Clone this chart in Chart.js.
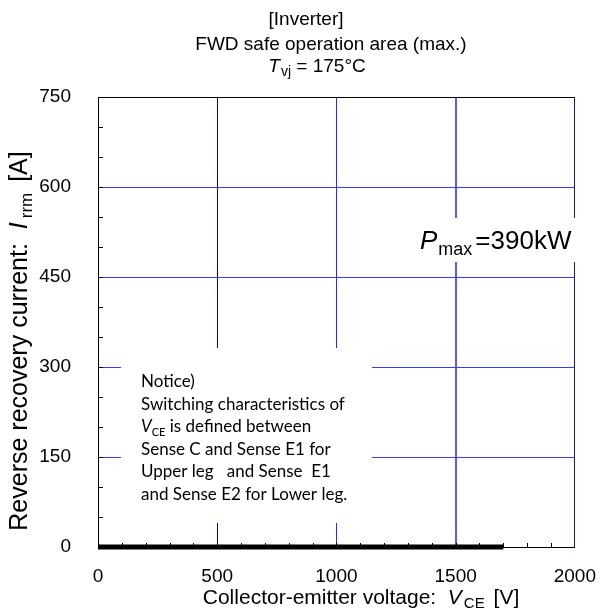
<!DOCTYPE html>
<html lang="en">
<head>
<meta charset="UTF-8" />
<title>FWD safe operation area</title>
<script src="https://cdn.jsdelivr.net/npm/chart.js@4.4.0/dist/chart.umd.min.js"></script>
<style>
  body { margin: 0; background: #fff; }
  #wrap { width: 614px; height: 612px; position: relative; }
</style>
</head>
<body>
<div id="wrap"><canvas id="chart"></canvas></div>
<script>
// RBSOA limit line (V, A)
const vceValues = [0, 1700];
const irrmValues = [0, 0];

// axis ticks
const xTickLabels = [0, 500, 1000, 1500, 2000];
const yTickLabels = [0, 150, 300, 450, 600, 750];
const xMinorStep = 100;
const yMinorStep = 50;

const noticeLines = [
  'Notice)',
  'Switching characteristics of',
  '@VCE is defined between',
  'Sense C and Sense E1 for',
  'Upper leg   and Sense  E1',
  'and Sense E2 for Lower leg.'
];

const SANS = '"Liberation Sans", Arial, sans-serif';

// draws text pieces left to right (for subscripts), returns end x
function subText(ctx, x, y, parts) {
  parts.forEach(p => {
    ctx.font = p.font;
    ctx.fillText(p.t, x, y + (p.dy || 0));
    x += ctx.measureText(p.t).width + (p.gap || 0);
  });
  return x;
}
function partsWidth(ctx, parts) {
  let w = 0;
  parts.forEach(p => { ctx.font = p.font; w += ctx.measureText(p.t).width + (p.gap || 0); });
  return w;
}

const decorPlugin = {
  id: 'decor',
  beforeDatasetsDraw(chart) {
    const ctx = chart.ctx;
    ctx.save();
    ctx.fillStyle = '#fff';
    ctx.fillRect(121, 348, 251, 175);   // notice box
    ctx.fillRect(455, 218, 125, 44);    // Pmax label backing
    ctx.restore();
  },
  afterDraw(chart) {
    const ctx = chart.ctx;
    const xs = chart.scales.x, ys = chart.scales.y;
    const area = chart.chartArea;
    ctx.save();

    // minor ticks, pointing inward
    ctx.strokeStyle = '#000';
    ctx.lineWidth = 1;
    ctx.beginPath();
    for (let v = yMinorStep; v < 750; v += yMinorStep) {
      const py = Math.round(ys.getPixelForValue(v)) + 0.5;
      ctx.moveTo(area.left, py); ctx.lineTo(area.left + 5, py);
    }
    for (let v = xMinorStep; v < 2000; v += xMinorStep) {
      const px = Math.round(xs.getPixelForValue(v)) + 0.5;
      ctx.moveTo(px, area.bottom); ctx.lineTo(px, area.bottom - 4);
    }
    ctx.stroke();

    ctx.fillStyle = '#000';
    ctx.textBaseline = 'alphabetic';

    // titles
    ctx.font = '19px ' + SANS;
    ctx.textAlign = 'center';
    ctx.fillText('[Inverter]', 306, 25);
    ctx.fillText('FWD safe operation area (max.)', 331, 50);
    ctx.textAlign = 'left';
    const tParts = [
      { t: 'T', font: 'italic 19px ' + SANS, gap: 1 },
      { t: 'vj', font: '14px ' + SANS, dy: 4 },
      { t: ' = 175°C', font: '19px ' + SANS }
    ];
    subText(ctx, 317 - partsWidth(ctx, tParts) / 2, 72, tParts);

    // x axis title
    const xParts = [
      { t: 'Collector-emitter voltage:  ', font: '21px ' + SANS },
      { t: 'V', font: 'italic 21px ' + SANS, gap: 2 },
      { t: 'CE', font: '15px ' + SANS, dy: 4, gap: 3 },
      { t: ' [V]', font: '21px ' + SANS }
    ];
    subText(ctx, 361 - partsWidth(ctx, xParts) / 2, 604, xParts);

    // y axis title (rotated)
    const yParts = [
      { t: 'Reverse recovery current:  ', font: '25px ' + SANS },
      { t: 'I', font: 'italic 25px ' + SANS, gap: 4 },
      { t: 'rrm', font: '17px ' + SANS, dy: 5, gap: 4 },
      { t: ' [A]', font: '25px ' + SANS }
    ];
    ctx.save();
    ctx.translate(27, 341);
    ctx.rotate(-Math.PI / 2);
    subText(ctx, -partsWidth(ctx, yParts) / 2, 0, yParts);
    ctx.restore();

    // Pmax label
    subText(ctx, 420, 249, [
      { t: 'P', font: 'italic 26px ' + SANS, gap: 1 },
      { t: 'max', font: '18px ' + SANS, dy: 6, gap: 3 },
      { t: '=390kW', font: '26px ' + SANS }
    ]);

    // notice text
    const nf = '17px Lato, "Open Sans", sans-serif';
    noticeLines.forEach((line, i) => {
      const y = 387 + i * 22.6;
      if (line.startsWith('@')) {
        subText(ctx, 141, y, [
          { t: 'V', font: 'italic ' + nf },
          { t: 'CE', font: '11px Lato, sans-serif', dy: 4 },
          { t: line.slice(4), font: nf }
        ]);
      } else {
        ctx.font = nf;
        ctx.fillText(line, 141, y);
      }
    });
    ctx.restore();
  }
};

new Chart(document.getElementById('chart'), {
  type: 'line',
  data: {
    datasets: [{
      data: vceValues.map((v, i) => ({ x: v, y: irrmValues[i] })),
      borderColor: '#000',
      borderWidth: 5,
      pointRadius: 0,
      borderCapStyle: 'butt',
      clip: false
    }]
  },
  options: {
    responsive: true,
    maintainAspectRatio: false,
    animation: false,
    events: [],
    layout: { padding: { top: 97, right: 21, left: 0, bottom: 0 } },
    plugins: { legend: { display: false }, tooltip: { enabled: false } },
    scales: {
      x: {
        type: 'linear',
        min: xTickLabels[0],
        max: xTickLabels[xTickLabels.length - 1],
        afterFit: s => { s.height = 65; },
        afterBuildTicks: s => { s.ticks = xTickLabels.map(v => ({ value: v })); },
        ticks: {
          color: '#000', font: { family: SANS, size: 19 }, padding: 18, maxRotation: 0,
          callback: v => String(v)
        },
        grid: {
          drawTicks: false,
          color: ['#000000', '#0000b4', '#2a2aff', '#5a5aff', '#1c1c78'],
          lineWidth: [1, 1, 1, 2, 1]
        },
        border: { color: '#000', width: 1 }
      },
      y: {
        min: yTickLabels[0],
        max: yTickLabels[yTickLabels.length - 1],
        afterFit: s => { s.width = 98; },
        afterBuildTicks: s => { s.ticks = yTickLabels.map(v => ({ value: v })); },
        ticks: {
          color: '#000', font: { family: SANS, size: 19 }, padding: 27,
          callback: v => String(v)
        },
        grid: {
          drawTicks: false,
          color: ['rgba(0,0,0,0)', '#3a3aff', '#3a3aff', '#3a3aff', '#3a3aff', '#000000']
        },
        border: { color: '#000', width: 1 }
      }
    }
  },
  plugins: [decorPlugin]
});
</script>
</body>
</html>
